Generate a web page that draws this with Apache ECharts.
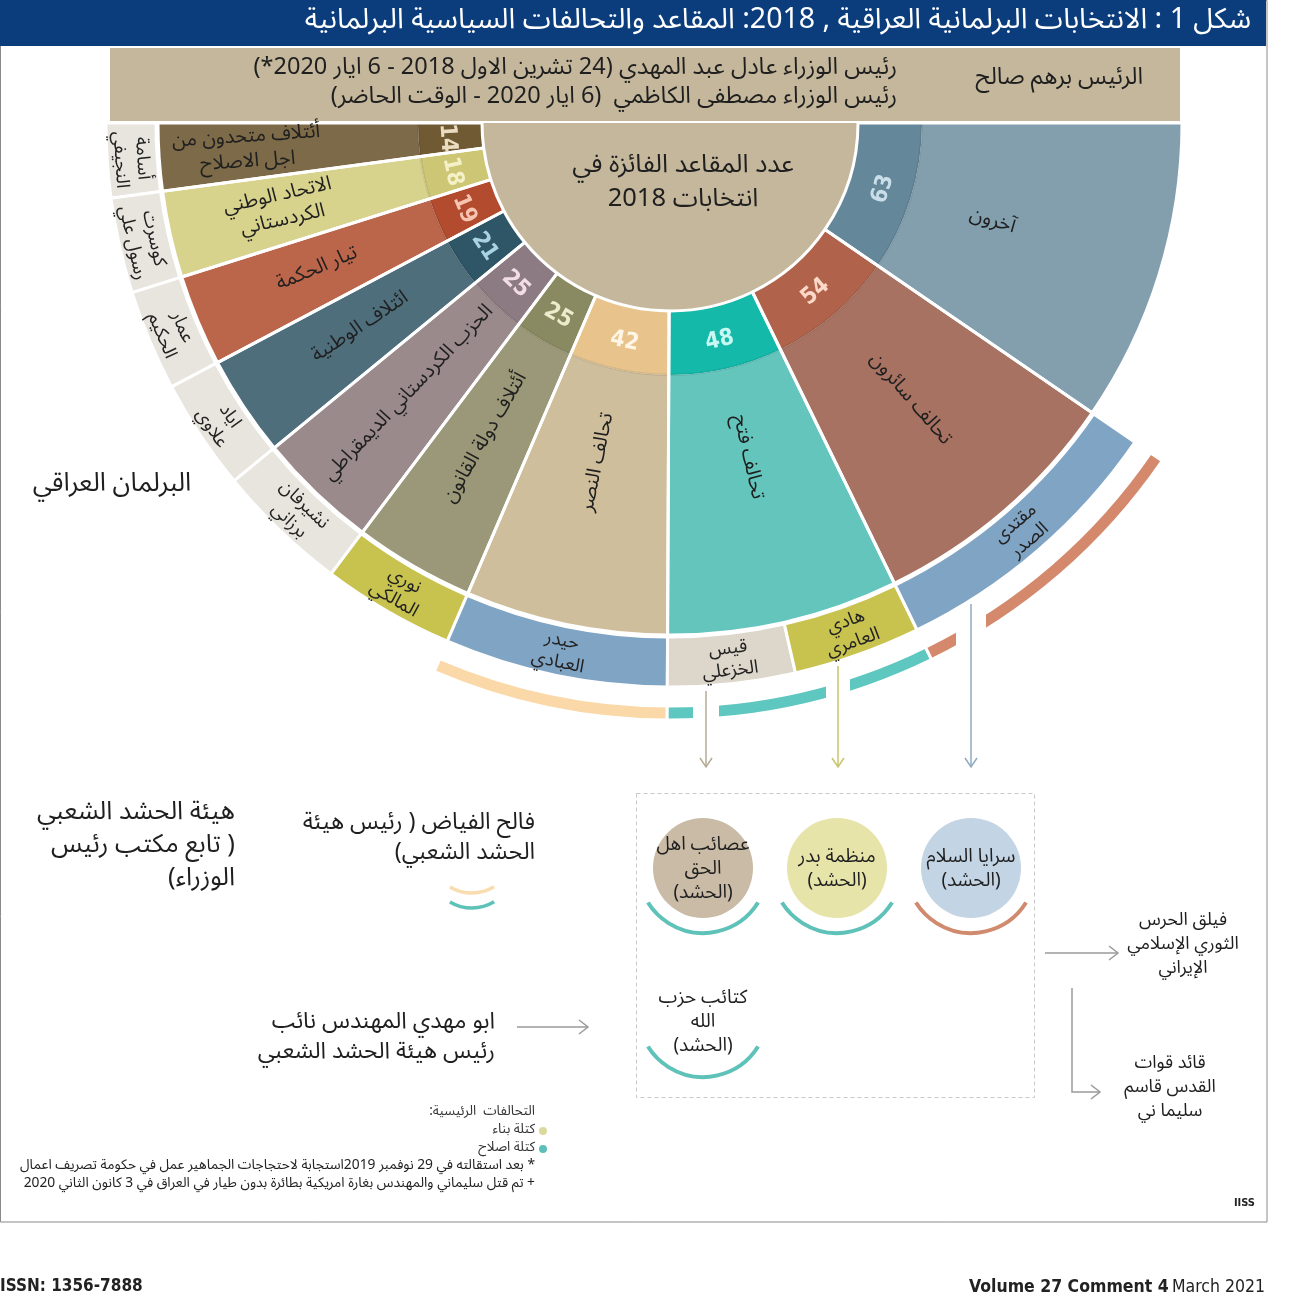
<!DOCTYPE html>
<html>
<head>
<meta charset="utf-8">
<script src="https://cdn.jsdelivr.net/npm/echarts/dist/echarts.min.js"></script>
<style>
html,body{margin:0;padding:0;background:#fff;}
#c{width:1302px;height:1303px;direction:rtl;}
</style>
</head>
<body>
<div id="c"></div>
<script>
// ---------- data ----------
const seats = [14, 18, 19, 21, 25, 25, 42, 48, 54, 63];
const parties = [
  'أئتلاف متحدون من\nاجل الاصلاح',
  'الاتحاد الوطني\nالكردستاني',
  'تيار الحكمة',
  'ائتلاف الوطنية',
  'الحزب الكردستاني الديمقراطي',
  'أئتلاف دولة القانون',
  'تحالف النصر',
  'تحالف فتح',
  'تحالف سائرون',
  'آخرون'
];
const partyColors  = ['#7d6a48','#d7d28c','#bb664a','#4f6e7c','#9b8a8b','#9a9878','#cebe9c','#64c5bc','#a77262','#839fae'];
const numberColors = ['#6f5a34','#cdc674','#b34b2f','#2f5667','#8c7b82','#8a8a62','#e8c48c','#14b9aa','#b0634a','#64879a'];
const numberText   = ['#eadcc0','#f4f0c8','#f7c4b2','#a9d2e2','#f2dde6','#ececcc','#fff6e6','#c8f8f2','#fdd8c8','#cadeea'];

const leaders      = ['أسامة\nالنجيفي','كوسرت\nرسول علي','عمار\nالحكيم','اياد\nعلاوي','نشيرفان\nبرزاني','نوري\nالمالكي','حيدر\nالعبادي','قيس\nالخزعلي','هادي\nالعامري','مقتدى\nالصدر',''];
const leaderSeats  = [14, 18, 19, 21, 25, 25, 42, 24, 24, 54, 63];
const leaderColors = ['#e8e5de','#e8e5de','#e8e5de','#e8e5de','#e8e5de','#c8c24f','#80a4c4','#ddd6ca','#c8c24f','#80a4c4',null];

const coalitionColors = [null,null,null,null,null,null,'#fbd8a8','#5ec7bf','#d4896d',null];

const title = 'شكل 1 : الانتخابات البرلمانية العراقية , 2018: المقاعد والتحالفات السياسية البرلمانية';
const presLine = 'الرئيس برهم صالح';
const pmLine1 = 'رئيس الوزراء عادل عبد المهدي (24 تشرين الاول 2018 - 6 ايار 2020*)';
const pmLine2 = 'رئيس الوزراء مصطفى الكاظمي  (6 ايار 2020 - الوقت الحاضر)';
const centerText = 'عدد المقاعد الفائزة في\nانتخابات 2018';

const militias = [
  {text:'عصائب اهل\nالحق\n(الحشد)', fill:'#c9bba6', arc:'#5ec2b9'},
  {text:'منظمة بدر\n(الحشد)', fill:'#e6e4a9', arc:'#5ec2b9'},
  {text:'سرايا السلام\n(الحشد)', fill:'#c3d4e4', arc:'#d08a6e'}
];

// ---------- layout config (not data) ----------
const AR = "'Noto Sans Arabic','DejaVu Sans',sans-serif";
const NUM = "'Liberation Sans Narrow','DejaVu Sans Condensed',Roboto,sans-serif";
const C = [670, 123];
const partyLabelRadius = [424, 399, 382, 371, 376, 365, 347, 343, 366, 337];
const TOTAL = seats.reduce((a, b) => a + b, 0);

function half(values, fn) {
  const d = values.map((v, i) => Object.assign({ value: v, name: 'p' + i }, fn(i)));
  d.push({ value: values.reduce((a, b) => a + b, 0), name: 'fill',
    itemStyle: { color: 'rgba(0,0,0,0)', borderWidth: 0 }, label: { show: false } });
  return d;
}
const base = { type: 'pie', center: C, startAngle: 180, clockwise: false, silent: true,
  animation: false, avoidLabelOverlap: false, labelLine: { show: false },
  emphasis: { disabled: true }, tooltip: { show: false } };

const series = [
  Object.assign({}, base, { radius: [0, 188], label: { show: false },
    data: half([TOTAL], () => ({ itemStyle: { color: '#c4b79c' } })) }),
  Object.assign({}, base, { radius: [188, 252],
    label: { show: true, position: 'inside', rotate: 'tangential', formatter: p => String(p.value),
      fontFamily: NUM, fontWeight: 'bold', fontSize: 23 },
    data: half(seats, i => ({ itemStyle: { color: numberColors[i] }, label: { color: numberText[i] } })) }),
  Object.assign({}, base, { radius: [252, 512], label: { show: false },
    data: half(seats, i => ({ itemStyle: { color: partyColors[i] } })) }),
  Object.assign({}, base, { radius: [250.5, 253], label: { show: false },
    data: half(seats, () => ({ itemStyle: { color: 'rgba(0,0,0,0.07)' } })) }),
  Object.assign({}, base, { radius: [188, 512], label: { show: false },
    data: half(seats, () => ({ itemStyle: { color: 'rgba(0,0,0,0)', borderColor: '#fff', borderWidth: 3 } })) }),
  Object.assign({}, base, { radius: [514, 564],
    label: { show: true, position: 'inside', rotate: 'tangential', formatter: p => leaders[p.dataIndex],
      fontFamily: AR, fontSize: 18.5, lineHeight: 22, color: '#222' },
    data: half(leaderSeats, i => ({ itemStyle: leaderColors[i]
      ? { color: leaderColors[i], borderColor: '#fff', borderWidth: 3 }
      : { color: 'rgba(0,0,0,0)', borderWidth: 0 } })) }),
  Object.assign({}, base, { radius: [583, 597], label: { show: false },
    data: half(seats, i => ({ itemStyle: coalitionColors[i]
      ? { color: coalitionColors[i], borderColor: '#fff', borderWidth: 3 }
      : { color: 'rgba(0,0,0,0)', borderWidth: 0 } })) })
];

// ---------- annotations ----------
function txt(text, x, y, size, opt) {
  return { type: 'text', z: 100, silent: true, style: Object.assign({
    text: text, x: x, y: y, fontSize: size, fontFamily: AR, fill: '#1f1f1f',
    align: 'center', verticalAlign: 'middle', lineHeight: Math.round(size * 1.35)
  }, opt || {}) };
}
function line(x1, y1, x2, y2, color, w) {
  return { type: 'line', z: 100, silent: true, shape: { x1, y1, x2, y2 }, style: { stroke: color, lineWidth: w || 1.5 } };
}
function headDown(x, y, color) {
  return { type: 'polyline', z: 100, silent: true, shape: { points: [[x - 6, y - 9], [x, y], [x + 6, y - 9]] }, style: { stroke: color, lineWidth: 1.5, fill: null } };
}
function headRight(x, y, color) {
  return { type: 'polyline', z: 100, silent: true, shape: { points: [[x - 9, y - 7], [x, y], [x - 9, y + 7]] }, style: { stroke: color, lineWidth: 1.5, fill: null } };
}
function smile(cx, cy, r, color, w, a0, a1) {
  return { type: 'arc', z: 100, silent: true, shape: { cx, cy, r, startAngle: a0, endAngle: a1, clockwise: true }, style: { stroke: color, lineWidth: w, fill: null } };
}
// radial label along a slice's mid angle, derived from the seat data
function radialLabel(i, r) {
  const before = seats.slice(0, i).reduce((a, b) => a + b, 0);
  const phi = (before + seats[i] / 2) / TOTAL * Math.PI;
  const rot = phi <= Math.PI / 2 ? phi : phi - Math.PI;
  return { type: 'text', z: 100, silent: true,
    x: C[0] - r * Math.cos(phi), y: C[1] + r * Math.sin(phi), rotation: rot,
    style: { text: parties[i], x: 0, y: 0, fontSize: 20, lineHeight: 25, fontFamily: AR, fill: '#1f1f1f',
      align: 'center', verticalAlign: 'middle' } };
}

// arrows from leaders down to the militia box (white halo cuts the coalition arc)
const arrows = [
  { x: 706, y0: 691, color: '#b5aa95', halo: [691, 726, 26] },
  { x: 838, y0: 666, color: '#c8c466', halo: [667, 706, 24] },
  { x: 971, y0: 604, color: '#8faac0', halo: [612, 652, 30] }
];

const g = [];
// frame
g.push({ type: 'rect', silent: true, z: 1, shape: { x: 0.5, y: 0.5, width: 1266.5, height: 1221.5 }, style: { fill: null, stroke: '#8a8a8a', lineWidth: 1 } });
// title bar
g.push({ type: 'rect', silent: true, z: 2, shape: { x: 0, y: 0, width: 1266, height: 46 }, style: { fill: '#0b3d7d' } });
g.push(txt(title, 1251, 24, 28.5, { align: 'right', fill: '#ffffff' }));
// top band
g.push({ type: 'rect', silent: true, z: 0, shape: { x: 110, y: 48, width: 1070, height: 73 }, style: { fill: '#c4b79c' } });
g.push(txt(presLine, 1143, 80, 23.4, { align: 'right' }));
g.push(txt(pmLine1, 897, 70, 23.5, { align: 'right' }));
g.push(txt(pmLine2, 897, 99, 23.5, { align: 'right' }));
// centre text
g.push(txt(centerText, 683, 185, 25.5, { lineHeight: 34 }));
// parliament label
g.push(txt('البرلمان العراقي', 112, 487, 26));
// party labels
parties.forEach((p, i) => g.push(radialLabel(i, partyLabelRadius[i])));

// arrows
arrows.forEach(a => {
  g.push({ type: 'line', z: 90, silent: true, shape: { x1: a.x, y1: a.halo[0], x2: a.x, y2: a.halo[1] }, style: { stroke: '#fff', lineWidth: a.halo[2] } });
  g.push(line(a.x, a.y0, a.x, 767, a.color));
  g.push(headDown(a.x, 767, a.color));
});

// dashed box
g.push({ type: 'rect', silent: true, z: 50, shape: { x: 636.5, y: 793.5, width: 398, height: 304 }, style: { fill: null, stroke: '#c9c9c9', lineWidth: 1, lineDash: [4, 3] } });
const A0 = 0.56, A1 = Math.PI - 0.56;
const mx = [703, 837, 971];
militias.forEach((m, i) => {
  g.push({ type: 'circle', silent: true, z: 60, shape: { cx: mx[i], cy: 868, r: 50 }, style: { fill: m.fill } });
  g.push(txt(m.text, mx[i], 871, 19, { lineHeight: 24 }));
  g.push(smile(mx[i], 868, 65, m.arc, 4, A0, A1));
});
g.push(txt('كتائب حزب\nالله\n(الحشد)', 703, 1024, 19, { lineHeight: 24 }));
g.push(smile(703, 1012, 65, '#5ec2b9', 4, A0, A1));

// IRGC / Soleimani
g.push(line(1045, 953, 1118, 953, '#9a9a9a'));
g.push(headRight(1118, 953, '#9a9a9a'));
g.push(txt('فيلق الحرس\nالثوري الإسلامي\nالإيراني', 1183, 946, 18, { lineHeight: 24 }));
g.push({ type: 'polyline', z: 100, silent: true, shape: { points: [[1072, 988], [1072, 1092], [1100, 1092]] }, style: { stroke: '#9a9a9a', lineWidth: 1.5, fill: null } });
g.push(headRight(1100, 1092, '#9a9a9a'));
g.push(txt('قائد قوات\nالقدس قاسم\nسليما ني', 1170, 1089, 18, { lineHeight: 24 }));

// PMF texts (left)
g.push(txt('هيئة الحشد الشعبي\n( تابع مكتب رئيس\nالوزراء)', 235, 848, 25.5, { align: 'right', lineHeight: 33 }));
g.push(txt('فالح الفياض ( رئيس هيئة\nالحشد الشعبي)', 535, 840, 23.3, { align: 'right', lineHeight: 30 }));
g.push(smile(472, 850, 43, '#f9dcb0', 3.5, 1.03, 2.11));
g.push(smile(472, 865, 43, '#5fc2b8', 3.5, 1.03, 2.11));
g.push(txt('ابو مهدي المهندس نائب\nرئيس هيئة الحشد الشعبي', 495, 1040, 23.1, { align: 'right', lineHeight: 30 }));
g.push(line(517, 1027, 588, 1027, '#9a9a9a'));
g.push(headRight(588, 1027, '#9a9a9a'));

// legend & notes
g.push(txt('التحالفات  الرئيسية:', 535, 1113, 13.5, { align: 'right', fill: '#333' }));
g.push({ type: 'circle', silent: true, z: 100, shape: { cx: 543, cy: 1131, r: 4 }, style: { fill: '#dcd99f' } });
g.push(txt('كتلة بناء', 535, 1131, 13.5, { align: 'right', fill: '#333' }));
g.push({ type: 'circle', silent: true, z: 100, shape: { cx: 543, cy: 1149, r: 4 }, style: { fill: '#5cc0b8' } });
g.push(txt('كتلة اصلاح', 535, 1149, 13.5, { align: 'right', fill: '#333' }));
g.push(txt('* بعد استقالته في 29 نوفمبر 2019استجابة لاحتجاجات الجماهير عمل في حكومة تصريف اعمال', 535, 1167, 13.8, { align: 'right', fill: '#222' }));
g.push(txt('+ تم قتل سليماني والمهندس بغارة امريكية بطائرة بدون طيار في العراق في 3 كانون الثاني 2020', 535, 1185, 13.8, { align: 'right', fill: '#222' }));
g.push(txt('IISS', 1255, 1203, 11, { align: 'right', fontFamily: NUM, fontWeight: 'bold', fill: '#222' }));

// footer
g.push(txt('ISSN: 1356-7888', 0, 1287, 17, { align: 'left', fontFamily: NUM, fontWeight: 'bold', fill: '#222' }));
g.push({ type: 'text', z: 100, silent: true, style: {
  text: '{b|Volume 27 Comment 4} {r|March 2021}', x: 1265, y: 1287, align: 'right', verticalAlign: 'middle',
  rich: { b: { fontFamily: NUM, fontWeight: 'bold', fontSize: 17.5, fill: '#222' }, r: { fontFamily: NUM, fontSize: 17.5, fill: '#222' } } } });

const chart = echarts.init(document.getElementById('c'), null, { renderer: 'canvas' });
chart.setOption({ backgroundColor: '#fff', animation: false, series: series, graphic: { elements: g } });
</script>
</body>
</html>
